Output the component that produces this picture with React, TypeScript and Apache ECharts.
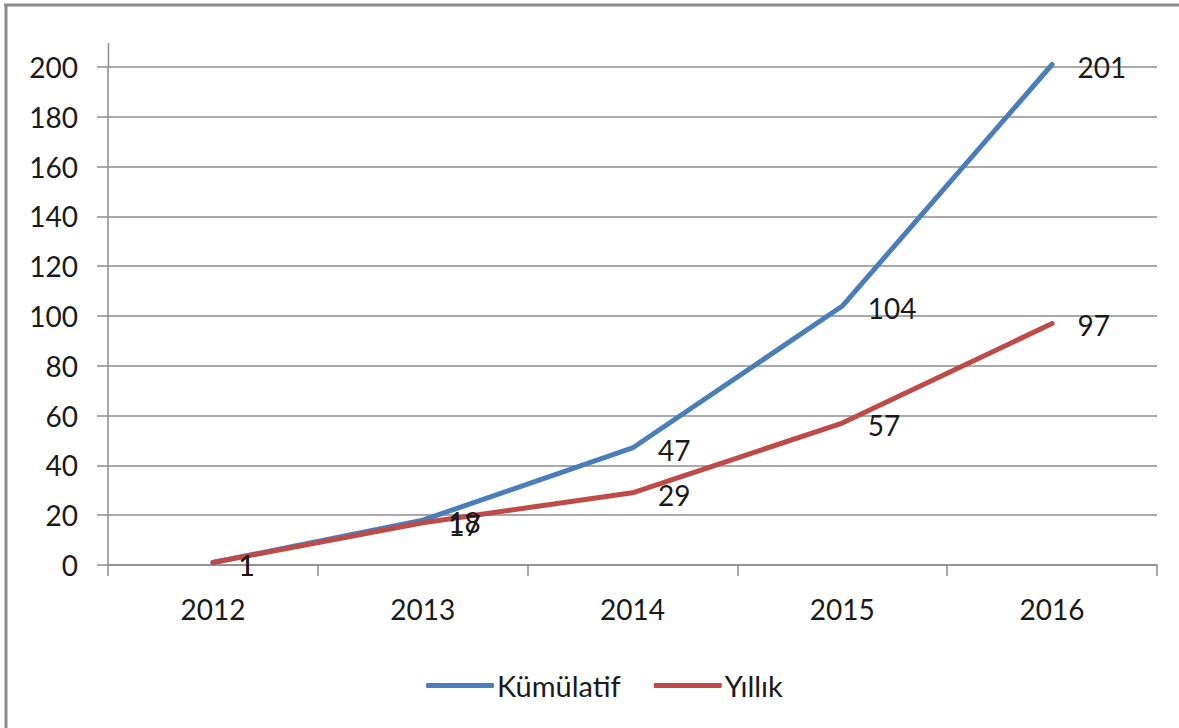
import React, { useEffect, useRef } from "react";
import * as echarts from "echarts";

const categories = ["2012", "2013", "2014", "2015", "2016"];
const kumulatif = [1, 18, 47, 104, 201];
const yillik = [1, 17, 29, 57, 97];
const seriesNames = ["Kümülatif", "Yıllık"];

const FONT = "Lato";
const GRAY = "#8c8c8c";
const TXT = "#1a1a1a";

export default function App() {
  const ref = useRef<HTMLDivElement>(null);
  useEffect(() => {
    if (!ref.current) return;
    const chart = echarts.init(ref.current, null, { renderer: "svg" });
    const labelStyle = {
      show: true,
      position: "right" as const,
      distance: 25,
      fontFamily: FONT,
      fontSize: 28,
      color: TXT,
      offset: [0, 2],
    };
    chart.setOption({
      animation: false,
      backgroundColor: "#ffffff",
      textStyle: { fontFamily: FONT },
      grid: { left: 108, right: 22, top: 67, bottom: 163, containLabel: false },
      graphic: [
        { type: "line", shape: { x1: 4, y1: 5, x2: 1179, y2: 5 }, style: { stroke: GRAY, lineWidth: 3 } },
        { type: "line", shape: { x1: 6, y1: 4, x2: 6, y2: 728 }, style: { stroke: GRAY, lineWidth: 3 } },
        { type: "line", shape: { x1: 108.5, y1: 43, x2: 108.5, y2: 67 }, style: { stroke: GRAY, lineWidth: 1.5 } },
      ],
      legend: {
        left: 421,
        top: 666,
        itemWidth: 68,
        itemHeight: 5,
        itemGap: 33,
        icon: "roundRect",
        textStyle: { fontFamily: FONT, fontSize: 29, color: TXT, padding: [0, 0, 0, -2] },
        data: seriesNames,
      },
      xAxis: {
        type: "category",
        data: categories,
        boundaryGap: true,
        axisLine: { lineStyle: { color: GRAY, width: 1.5 } },
        axisTick: { show: true, length: 11, lineStyle: { color: GRAY, width: 1.5 } },
        axisLabel: { fontFamily: FONT, fontSize: 28, color: TXT, margin: 30 },
      },
      yAxis: {
        type: "value",
        min: 0,
        max: 200,
        interval: 20,
        axisLine: { show: true, lineStyle: { color: GRAY, width: 1.5 } },
        axisTick: { show: true, length: 11, lineStyle: { color: GRAY, width: 1.5 } },
        splitLine: { show: true, lineStyle: { color: GRAY, width: 1.5 } },
        axisLabel: { fontFamily: FONT, fontSize: 28, color: TXT, margin: 30 },
      },
      series: [
        {
          name: seriesNames[0],
          type: "line",
          data: kumulatif,
          clip: false,
          symbol: "circle",
          symbolSize: 1,
          showSymbol: true,
          color: "#4a7ebb",
          lineStyle: { width: 5, color: "#4a7ebb", cap: "round", join: "round" },
          itemStyle: { color: "#4a7ebb" },
          label: labelStyle,
        },
        {
          name: seriesNames[1],
          type: "line",
          data: yillik,
          clip: false,
          symbol: "circle",
          symbolSize: 1,
          showSymbol: true,
          color: "#be4b48",
          lineStyle: { width: 5, color: "#be4b48", cap: "round", join: "round" },
          itemStyle: { color: "#be4b48" },
          label: labelStyle,
        },
      ],
    });
    return () => chart.dispose();
  }, []);
  return (
    <div
      ref={ref}
      style={{ position: "fixed", left: 0, top: 0, width: 1179, height: 728, background: "#fff" }}
    />
  );
}
